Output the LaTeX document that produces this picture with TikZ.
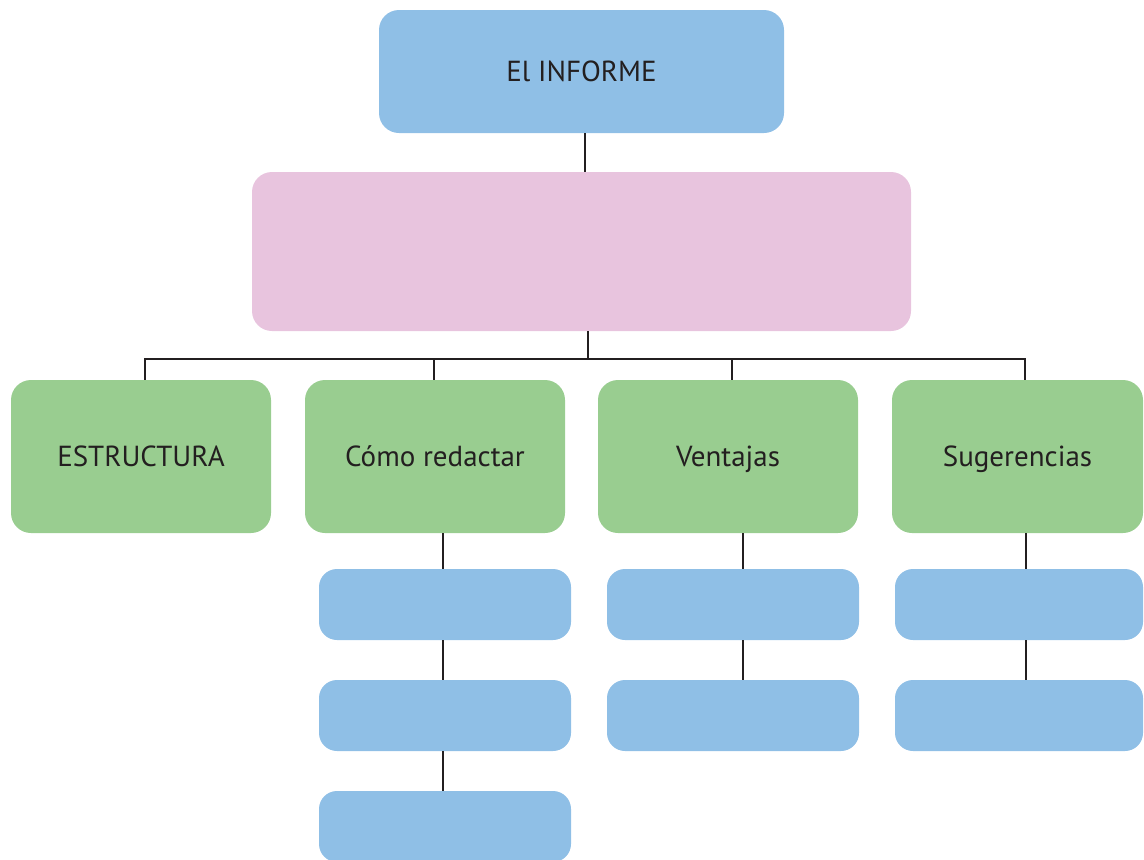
\documentclass[tikz,border=0pt]{standalone}
\usepackage{fontspec}
\setmainfont{PT Sans}
\definecolor{boxblue}{HTML}{8FBFE6}
\definecolor{boxpink}{HTML}{E8C4DE}
\definecolor{boxgreen}{HTML}{99CD90}
\definecolor{ink}{HTML}{231F20}
\tikzset{
  base/.style={rectangle, rounded corners=20pt, inner sep=0pt, text=ink, text height=20.5pt, text depth=0pt, font=\fontsize{29}{34}\selectfont},
  topbox/.style={base, fill=boxblue, minimum width=405pt, minimum height=123pt},
  pinkbox/.style={base, fill=boxpink, minimum width=659pt, minimum height=159pt},
  greenbox/.style={base, fill=boxgreen, minimum width=260pt, minimum height=153pt},
  leafbox/.style={base, rounded corners=18pt, fill=boxblue, minimum width=252pt, minimum height=71pt},
  conn/.style={draw=ink, line width=2.2pt}
}
\begin{document}
\begin{tikzpicture}[x=1pt,y=1pt]
\useasboundingbox (0,0) rectangle (1144,-860);
\node[topbox] (top) at (581.5,-71.5) {El INFORME};
\node[pinkbox] (pink) at (581.5,-251.5) {};
\node[greenbox] (g1) at (141,-456.5) {ESTRUCTURA\hspace{6pt}};
\node[greenbox] (g2) at (435,-456.5) {Cómo redactar\hspace{6pt}};
\node[greenbox] (g3) at (728,-456.5) {Ventajas\hspace{6pt}};
\node[greenbox, minimum width=251pt] (g4) at (1017.5,-456.5) {Sugerencias\hspace{8pt}};
\node[leafbox] (b21) at (445,-604.5) {};
\node[leafbox] (b22) at (445,-715.5) {};
\node[leafbox] (b23) at (445,-826.5) {};
\node[leafbox] (b31) at (733,-604.5) {};
\node[leafbox] (b32) at (733,-715.5) {};
\node[leafbox, minimum width=248pt] (b41) at (1019,-604.5) {};
\node[leafbox, minimum width=248pt] (b42) at (1019,-715.5) {};
\coordinate (bar) at (0,-359);
% connectors
\draw[conn] ([xshift=3.5pt]top.south) -- ([xshift=3.5pt]top.south |- pink.north);
\draw[conn] ([xshift=6.5pt]pink.south) -- ([xshift=6.5pt]pink.south |- bar);
\draw[conn] ([xshift=4pt]g1.north) -- ([xshift=4pt]g1.north |- bar) -- ([xshift=7.5pt]g4.north |- bar) -- ([xshift=7.5pt]g4.north);
\draw[conn] ([xshift=-1pt]g2.north) -- ([xshift=-1pt]g2.north |- bar);
\draw[conn] ([xshift=4pt]g3.north) -- ([xshift=4pt]g3.north |- bar);
\draw[conn] ([xshift=-2pt]b21.north |- g2.south) -- ([xshift=-2pt]b21.north);
\draw[conn] ([xshift=-2pt]b21.south) -- ([xshift=-2pt]b22.north);
\draw[conn] ([xshift=-2pt]b22.south) -- ([xshift=-2pt]b23.north);
\draw[conn] ([xshift=10pt]b31.north |- g3.south) -- ([xshift=10pt]b31.north);
\draw[conn] ([xshift=10pt]b31.south) -- ([xshift=10pt]b32.north);
\draw[conn] ([xshift=7pt]b41.north |- g4.south) -- ([xshift=7pt]b41.north);
\draw[conn] ([xshift=7pt]b41.south) -- ([xshift=7pt]b42.north);
\end{tikzpicture}
\end{document}
